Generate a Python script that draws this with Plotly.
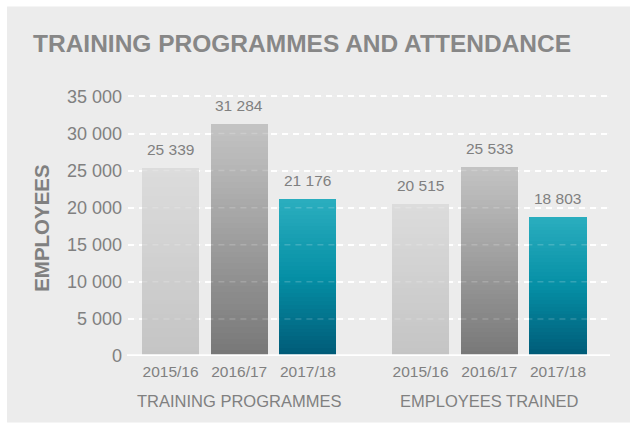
import plotly.graph_objects as go

# ---- data ----
years = ["2015/16", "2016/17", "2017/18"]
groups = ["TRAINING PROGRAMMES", "EMPLOYEES TRAINED"]
training_programmes = [25339, 31284, 21176]
employees_trained = [20515, 25533, 18803]
y_tick_vals = [0, 5000, 10000, 15000, 20000, 25000, 30000, 35000]
y_tick_text = ["0", "5 000", "10 000", "15 000", "20 000", "25 000", "30 000", "35 000"]

# ---- styling ----
GROUP_GAP = 0.64          # extra slot gap between the two groups
BAR_WIDTH = 0.83
N_SEG = 40                # segments used to emulate vertical gradients
TXT = "#808080"
FONT = "Liberation Sans"
# (bottom colour, middle colour, top colour) for each year
GRADIENTS = [
    ((0xc4, 0xc4, 0xc4), (0xd0, 0xd0, 0xd0), (0xdc, 0xdc, 0xdc)),
    ((0x77, 0x77, 0x77), (0x9e, 0x9e, 0x9e), (0xc4, 0xc4, 0xc4)),
    ((0x00, 0x5a, 0x77), (0x05, 0x8f, 0xa5), (0x2b, 0xae, 0xbf)),
]

def lerp(c1, c2, t):
    return tuple(round(a + (b - a) * t) for a, b in zip(c1, c2))

def grad_color(stops, t):
    if t <= 0.5:
        c = lerp(stops[0], stops[1], t / 0.5)
    else:
        c = lerp(stops[1], stops[2], (t - 0.5) / 0.5)
    return "rgb(%d,%d,%d)" % c

# positions of bars
xs, vals, cols, ticktext = [], [], [], []
group_centers = []
for gi, series in enumerate([training_programmes, employees_trained]):
    start = gi * (len(years) + GROUP_GAP)
    pos = [start + i for i in range(len(years))]
    group_centers.append(sum(pos) / len(pos))
    for i, v in enumerate(series):
        xs.append(pos[i])
        vals.append(v)
        cols.append(i)
        ticktext.append(years[i])

fig = go.Figure()

for k in range(N_SEG):
    bases = [v * k / N_SEG for v in vals]
    heights = [v / N_SEG * (1.0 if k == N_SEG - 1 else 1.3) for v in vals]
    colors = [grad_color(GRADIENTS[c], (k + 0.5) / N_SEG) for c in cols]
    fig.add_trace(go.Bar(
        x=xs, y=heights, base=bases, width=BAR_WIDTH,
        marker=dict(color=colors, line=dict(width=0)),
        hoverinfo="skip", showlegend=False,
    ))

annotations = []
for x, v in zip(xs, vals):
    annotations.append(dict(
        x=x, y=v, xref="x", yref="y", text=f"{v:,}".replace(",", " "),
        showarrow=False, yanchor="bottom", yshift=8,
        font=dict(family=FONT, size=15.5, color=TXT),
    ))
for gc, g in zip(group_centers, groups):
    annotations.append(dict(
        x=gc, y=-0.170, xref="x", yref="paper", text=g, showarrow=False,
        yanchor="middle", xanchor="center",
        font=dict(family=FONT, size=16.5, color=TXT),
    ))
annotations.append(dict(
    x=-0.181, y=0.479, xref="paper", yref="paper", text="<b>EMPLOYEES</b>",
    showarrow=False, textangle=-90, xanchor="center", yanchor="middle",
    font=dict(family=FONT, size=20.5, color=TXT),
))

shapes = [
    # grey panel
    dict(type="rect", xref="paper", yref="paper", x0=-0.251, x1=1.05,
         y0=-0.249, y1=1.309, fillcolor="#ececec", line=dict(width=0), layer="below"),
]
# faint gridlines over bars
for tv in y_tick_vals[1:]:
    shapes.append(dict(type="line", xref="paper", yref="y", x0=0.005, x1=0.998,
                       y0=tv, y1=tv, layer="above",
                       line=dict(color="rgba(255,255,255,0.18)", width=1.5, dash="6px,5px")))
# baseline
shapes.append(dict(type="line", xref="paper", yref="y", x0=-0.002, x1=1.0,
                   y0=0, y1=0, layer="above", line=dict(color="white", width=3.5)))

fig.update_layout(
    width=630, height=423,
    margin=dict(l=128, r=20, t=89, b=67),
    paper_bgcolor="white", plot_bgcolor="rgba(0,0,0,0)",
    barmode="overlay", bargap=0,
    title=dict(text="<b>TRAINING PROGRAMMES AND ATTENDANCE</b>",
               x=33 / 630, xref="container", xanchor="left",
               y=1 - 43 / 423, yref="container", yanchor="middle",
               font=dict(family=FONT, size=24.5, color="#878787")),
    xaxis=dict(range=[-0.619, 6.397], tickvals=xs, ticktext=ticktext,
               showgrid=False, zeroline=False, showline=False, ticks="",
               ticklabelstandoff=4,
               tickfont=dict(family=FONT, size=15.5, color=TXT), fixedrange=True),
    yaxis=dict(range=[0, 36000], tickvals=y_tick_vals, ticktext=y_tick_text,
               showgrid=True, gridcolor="white", gridwidth=1.5, griddash="6px,5px",
               zeroline=False, showline=False, ticks="", ticklabelstandoff=5,
               tickfont=dict(family=FONT, size=18, color=TXT), fixedrange=True),
    annotations=annotations, shapes=shapes,
)

fig.write_html("out.html", config={"displayModeBar": False},
               post_script="document.body.style.margin='0';document.body.style.overflow='hidden';")
